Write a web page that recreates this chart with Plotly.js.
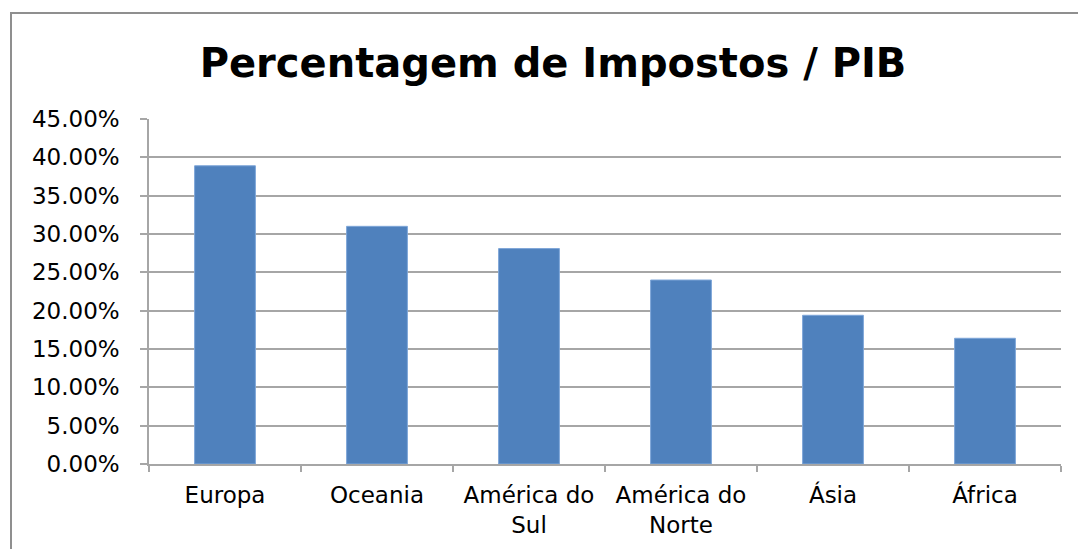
<!DOCTYPE html>
<html>
<head>
<meta charset="utf-8">
<script src="https://cdn.plot.ly/plotly-3.0.1.min.js"></script>
<style>
  html, body { margin: 0; padding: 0; background: #fff; overflow: hidden; }
  #frame { position: absolute; left: 10px; top: 12px; width: 2000px; height: 2000px;
           border-left: 2px solid #8f8f8f; border-top: 2px solid #8f8f8f; }
  #chart { position: absolute; left: 0; top: 0; width: 1078px; height: 549px; }
</style>
</head>
<body>
<div id="frame"></div>
<div id="chart"></div>
<script>
const categories = ["Europa", "Oceania", "América do<br>Sul", "América do<br>Norte", "Ásia", "África"];
const values = [0.389, 0.310, 0.281, 0.240, 0.194, 0.164];
const chartTitle = "Percentagem de Impostos / PIB";

const gridColor = "#a6a6a6";

const data = [{
  type: "bar",
  x: categories,
  y: values,
  marker: { color: "#4f81bd", line: { color: "#7ea6d8", width: 1 } },
  hoverinfo: "x+y"
}];

const layout = {
  width: 1078,
  height: 549,
  paper_bgcolor: "rgba(0,0,0,0)",
  plot_bgcolor: "rgba(0,0,0,0)",
  margin: { l: 149, r: 17, t: 119, b: 85 },
  bargap: 0.6,
  showlegend: false,
  title: {
    text: "<b>" + chartTitle + "</b>",
    font: { family: "DejaVu Sans", size: 40, color: "#000" },
    x: 0.513, xanchor: "center",
    y: 0.885, yanchor: "middle"
  },
  xaxis: {
    type: "category",
    tickson: "boundaries",
    ticks: "outside",
    ticklen: 6,
    tickwidth: 1.5,
    tickcolor: gridColor,
    showline: true,
    linecolor: gridColor,
    linewidth: 1.5,
    showgrid: false,
    tickfont: { family: "DejaVu Sans", size: 23, color: "#000" },
    ticklabelstandoff: 10,
    fixedrange: true
  },
  yaxis: {
    range: [0, 0.45],
    dtick: 0.05,
    tick0: 0,
    tickformat: ".2%",
    ticks: "outside",
    ticklen: 7,
    tickwidth: 1.5,
    tickcolor: gridColor,
    showline: true,
    linecolor: gridColor,
    linewidth: 1.5,
    showgrid: true,
    gridcolor: gridColor,
    gridwidth: 1.5,
    zeroline: false,
    tickfont: { family: "DejaVu Sans", size: 23, color: "#000" },
    ticklabelstandoff: 16,
    fixedrange: true
  }
};

Plotly.newPlot("chart", data, layout, { displayModeBar: false, staticPlot: false });
</script>
</body>
</html>
